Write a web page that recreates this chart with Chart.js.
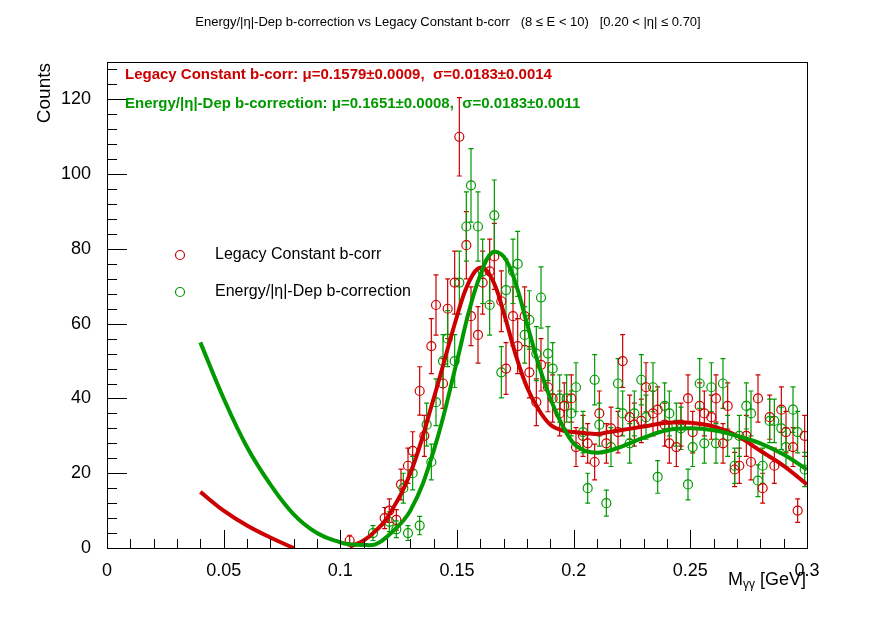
<!DOCTYPE html>
<html>
<head>
<meta charset="utf-8">
<script src="https://cdn.jsdelivr.net/npm/chart.js@4/dist/chart.umd.min.js"></script>
<style>
  body { margin: 0; background: #fff; }
  #wrap { width: 896px; height: 622px; }
</style>
</head>
<body>
<div id="wrap"><canvas id="c" width="896" height="622"></canvas></div>
<script>
// measured points (x in GeV, counts)
var legacyX = [0.104, 0.119, 0.121, 0.124, 0.126, 0.129, 0.131, 0.134, 0.136, 0.139, 0.141, 0.144, 0.146, 0.149, 0.151, 0.154, 0.156, 0.159, 0.161, 0.164, 0.166, 0.169, 0.171, 0.174, 0.176, 0.179, 0.181, 0.184, 0.186, 0.189, 0.191, 0.194, 0.196, 0.199, 0.201, 0.204, 0.206, 0.209, 0.211, 0.214, 0.216, 0.219, 0.221, 0.224, 0.226, 0.229, 0.231, 0.234, 0.236, 0.239, 0.241, 0.244, 0.246, 0.249, 0.251, 0.254, 0.256, 0.259, 0.261, 0.264, 0.266, 0.269, 0.271, 0.274, 0.276, 0.279, 0.281, 0.284, 0.286, 0.289, 0.291, 0.294, 0.296, 0.299];
var legacyY = [2, 8, 10, 7.5, 17, 22, 26, 42, 30, 54, 65, 44, 64, 71, 110, 81, 62, 57, 71, 74, 78, 66, 48, 62, 54, 62, 47, 39, 49, 43, 40, 36, 38, 40, 27, 30, 28, 23, 36, 28, 32, 31, 50, 35, 33, 34, 43, 36, 37, 33, 28, 27, 33, 40, 31, 38, 36, 35, 40, 28, 38, 21, 22, 30, 23, 40, 16, 35, 22, 37, 31, 27, 10, 30];
var newX = [0.114, 0.121, 0.124, 0.127, 0.129, 0.131, 0.134, 0.137, 0.139, 0.141, 0.144, 0.146, 0.149, 0.151, 0.154, 0.156, 0.159, 0.161, 0.164, 0.166, 0.169, 0.171, 0.174, 0.176, 0.179, 0.181, 0.184, 0.186, 0.189, 0.191, 0.194, 0.197, 0.199, 0.201, 0.204, 0.206, 0.209, 0.211, 0.214, 0.216, 0.219, 0.221, 0.224, 0.226, 0.229, 0.231, 0.234, 0.236, 0.239, 0.241, 0.244, 0.246, 0.249, 0.251, 0.254, 0.256, 0.259, 0.261, 0.264, 0.266, 0.269, 0.271, 0.274, 0.276, 0.279, 0.281, 0.284, 0.286, 0.289, 0.291, 0.294, 0.296, 0.299];
var newY = [4, 7, 5, 16, 4, 20, 6, 33, 23, 39, 50, 56, 50, 71, 86, 97, 86, 74, 65, 89, 47, 69, 74, 76, 57, 61, 52, 67, 52, 48, 40, 40, 36, 43, 31, 16, 45, 33, 12, 27, 44, 36, 28, 36, 45, 35, 43, 19, 38, 36, 33, 32, 17, 27, 44, 28, 43, 28, 44, 30, 22, 30, 38, 36, 18, 22, 34, 34, 32, 27, 37, 31, 21];

// fit curves (null = below zero, not drawn)
var fitX = [0.04, 0.05, 0.06, 0.07, 0.08, 0.09, 0.1, 0.104, 0.11, 0.115, 0.12, 0.13, 0.14, 0.15, 0.155, 0.16, 0.165, 0.17, 0.175, 0.18, 0.185, 0.19, 0.195, 0.2, 0.205, 0.21, 0.215, 0.22, 0.23, 0.24, 0.25, 0.26, 0.27, 0.28, 0.29, 0.3];
var legacyFit = [15, 10, 6, 2.8, 0, null, null, 0.3, 2, 4.5, 8, 20, 40, 62, 71, 75, 72, 63, 52, 43, 37, 33, 31.5, 31, 30.7, 30.5, 31, 31.5, 32.5, 33.5, 33.5, 32.5, 30, 26, 22, 17];
var newFit = [55, 40, 27, 17, 9, 4, 1.5, 1, 0.8, 1, 3, 10, 26, 50, 63, 73, 79, 78, 71, 60, 49, 40, 33, 28, 26, 25.5, 26, 27, 29.5, 31.5, 32, 31.5, 30, 28, 25, 21];

var xTicks = [0, 0.05, 0.1, 0.15, 0.2, 0.25, 0.3];
var yTicks = [0, 20, 40, 60, 80, 100, 120];

var RED = "#cc0000";
var GREEN = "#009900";

function pts(xs, ys) {
  var out = [];
  for (var i = 0; i < xs.length; i++) out.push({ x: xs[i], y: ys[i] });
  return out;
}

// error bars, ticks inside the frame, texts
var rootPlugin = {
  id: "root",
  beforeDatasetsDraw: function (chart) {
    var ctx = chart.ctx;
    var xs = chart.scales.x, ys = chart.scales.y;
    ctx.save();
    for (var d = 0; d < 2; d++) {
      var ds = chart.data.datasets[d];
      ctx.strokeStyle = ds.borderColor;
      ctx.lineWidth = 1.2;
      for (var i = 0; i < ds.data.length; i++) {
        var p = ds.data[i];
        var e = Math.sqrt(p.y);
        var px = xs.getPixelForValue(p.x);
        var lo = ys.getPixelForValue(Math.max(0, p.y - e));
        var hi = ys.getPixelForValue(p.y + e);
        ctx.beginPath();
        ctx.moveTo(px, lo); ctx.lineTo(px, hi);
        ctx.moveTo(px - 2.5, lo); ctx.lineTo(px + 2.5, lo);
        ctx.moveTo(px - 2.5, hi); ctx.lineTo(px + 2.5, hi);
        ctx.stroke();
      }
    }
    ctx.restore();
  },
  afterDraw: function (chart) {
    var ctx = chart.ctx;
    var a = chart.chartArea;
    var xs = chart.scales.x, ys = chart.scales.y;
    ctx.save();
    ctx.strokeStyle = "#000";
    ctx.lineWidth = 1;
    ctx.strokeRect(a.left + 0.5, a.top + 0.5, a.right - a.left, a.bottom - a.top);
    ctx.beginPath();
    var v, px, big;
    for (var k = 0; k <= 30; k++) {
      v = k * 0.01;
      px = Math.round(xs.getPixelForValue(v)) + 0.5;
      big = k % 5 === 0;
      ctx.moveTo(px, a.bottom); ctx.lineTo(px, a.bottom - (big ? 18 : 9));
    }
    for (k = 0; k <= 32; k++) {
      v = k * 4;
      var py = Math.round(ys.getPixelForValue(v)) + 0.5;
      big = k % 5 === 0;
      ctx.moveTo(a.left, py); ctx.lineTo(a.left + (big ? 20 : 10), py);
    }
    ctx.stroke();

    ctx.fillStyle = "#000";
    ctx.font = "13px 'Liberation Sans', Arial, sans-serif";
    ctx.textAlign = "center";
    ctx.textBaseline = "middle";
    ctx.fillText("Energy/|\u03b7|-Dep b-correction vs Legacy Constant b-corr   (8 \u2264 E < 10)   [0.20 < |\u03b7| \u2264 0.70]", 448, 22);

    ctx.font = "19px 'Liberation Sans', Arial, sans-serif";
    ctx.save();
    ctx.translate(45, 63);
    ctx.rotate(-Math.PI / 2);
    ctx.textAlign = "right";
    ctx.fillText("Counts", 0, 0);
    ctx.restore();

    ctx.textAlign = "right";
    ctx.font = "18px 'Liberation Sans', Arial, sans-serif";
    ctx.fillText("[GeV]", 806, 580);
    var w1 = ctx.measureText(" [GeV]").width;
    ctx.font = "12px 'Liberation Sans', Arial, sans-serif";
    ctx.fillText("\u03b3\u03b3", 806 - w1, 585);
    var w2 = ctx.measureText("\u03b3\u03b3").width;
    ctx.font = "18px 'Liberation Sans', Arial, sans-serif";
    ctx.fillText("M", 806 - w1 - w2, 580);

    ctx.textAlign = "left";
    ctx.font = "bold 15px 'Liberation Sans', Arial, sans-serif";
    ctx.fillStyle = RED;
    ctx.fillText("Legacy Constant b-corr: \u03bc=0.1579\u00b10.0009,  \u03c3=0.0183\u00b10.0014", 125, 75);
    ctx.fillStyle = GREEN;
    ctx.fillText("Energy/|\u03b7|-Dep b-correction: \u03bc=0.1651\u00b10.0008,  \u03c3=0.0183\u00b10.0011", 125, 104);

    ctx.font = "16px 'Liberation Sans', Arial, sans-serif";
    ctx.fillStyle = "#000";
    ctx.fillText("Legacy Constant b-corr", 215, 255);
    ctx.fillText("Energy/|\u03b7|-Dep b-correction", 215, 292);
    ctx.lineWidth = 1.2;
    ctx.strokeStyle = RED;
    ctx.beginPath(); ctx.arc(180, 255, 4.5, 0, 2 * Math.PI); ctx.stroke();
    ctx.strokeStyle = GREEN;
    ctx.beginPath(); ctx.arc(180, 292, 4.5, 0, 2 * Math.PI); ctx.stroke();
    ctx.restore();
  }
};

new Chart(document.getElementById("c").getContext("2d"), {
  type: "scatter",
  data: {
    datasets: [
      { data: pts(legacyX, legacyY), borderColor: RED, backgroundColor: "rgba(0,0,0,0)", pointRadius: 4.5, borderWidth: 1.2, order: 2 },
      { data: pts(newX, newY), borderColor: GREEN, backgroundColor: "rgba(0,0,0,0)", pointRadius: 4.5, borderWidth: 1.2, order: 2 },
      { type: "line", data: pts(fitX, legacyFit), borderColor: RED, borderWidth: 4, pointRadius: 0, tension: 0.4, spanGaps: false, fill: false, order: 1 },
      { type: "line", data: pts(fitX, newFit), borderColor: GREEN, borderWidth: 4, pointRadius: 0, tension: 0.4, spanGaps: false, fill: false, order: 0 }
    ]
  },
  options: {
    responsive: false,
    animation: false,
    layout: { padding: { top: 62, right: 89, left: 0, bottom: 0 } },
    plugins: { legend: { display: false }, tooltip: { enabled: false } },
    scales: {
      x: {
        type: "linear", min: 0, max: 0.3,
        afterFit: function (s) { s.height = 74; },
        afterBuildTicks: function (s) { s.ticks = xTicks.map(function (v) { return { value: v }; }); },
        grid: { display: false },
        border: { display: false },
        ticks: {
          color: "#000", padding: 4,
          font: { size: 18, family: "'Liberation Sans', Arial, sans-serif" },
          callback: function (v) { return v === 0 ? "0" : String(Math.round(v * 100) / 100); }
        }
      },
      y: {
        type: "linear", min: 0, max: 130,
        afterFit: function (s) { s.width = 107; },
        afterBuildTicks: function (s) { s.ticks = yTicks.map(function (v) { return { value: v }; }); },
        grid: { display: false },
        border: { display: false },
        ticks: {
          color: "#000", padding: 8,
          font: { size: 18, family: "'Liberation Sans', Arial, sans-serif" }
        }
      }
    }
  },
  plugins: [rootPlugin]
});
</script>
</body>
</html>
